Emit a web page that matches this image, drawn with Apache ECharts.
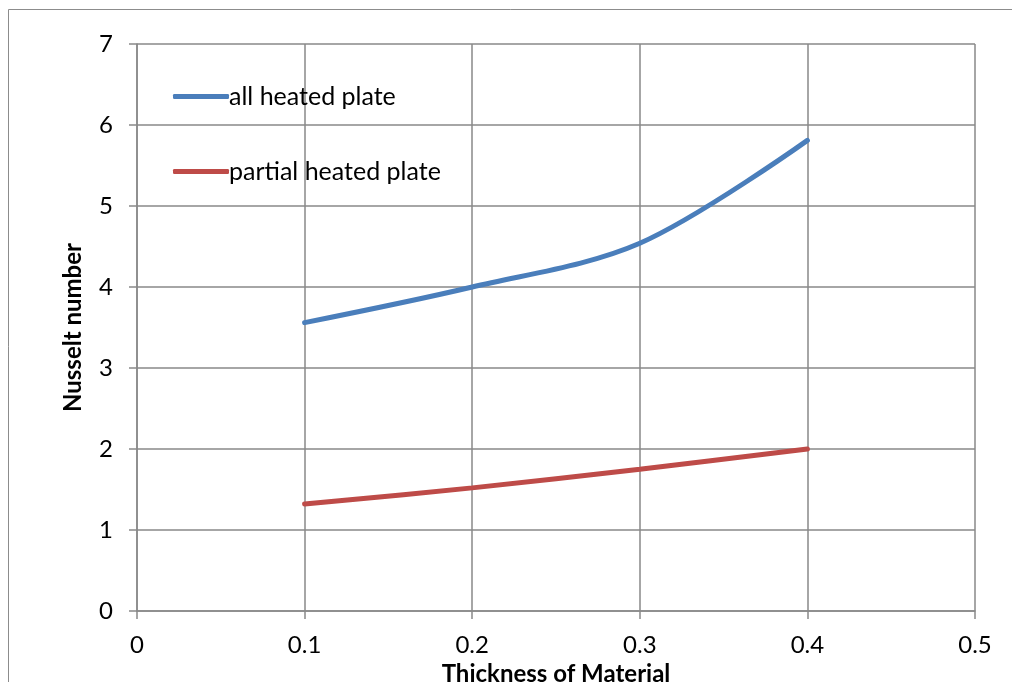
<!DOCTYPE html>
<html>
<head>
<meta charset="utf-8">
<script src="https://cdn.jsdelivr.net/npm/echarts@6/dist/echarts.min.js"></script>
<style>
  html, body { margin: 0; padding: 0; background: #fff; }
  #chart { width: 1012px; height: 682px; }
</style>
</head>
<body>
<div id="chart"></div>
<script>
// Thickness of material (x) and Nusselt number for each heating case
const thickness = [0.1, 0.2, 0.3, 0.4];
const allHeated = [3.56, 4.0, 4.54, 5.81];
const partialHeated = [1.32, 1.52, 1.75, 2.0];
const seriesNames = ['all heated plate', 'partial heated plate'];

const FONT = 'Lato, "Open Sans", sans-serif';
const GRID_COLOR = '#898989';
const BLUE = '#4a7ebb';
const RED = '#be4b48';

const pair = (xs, ys) => xs.map((x, i) => [x, ys[i]]);

const chart = echarts.init(document.getElementById('chart'), null, { renderer: 'canvas' });

chart.setOption({
  animation: false,
  backgroundColor: '#ffffff',
  textStyle: { fontFamily: FONT },
  graphic: [{
    type: 'rect',
    shape: { x: 8.5, y: 9.5, width: 1100, height: 800 },
    style: { fill: 'none', stroke: '#8c8c8c', lineWidth: 1 },
    silent: true
  }],
  grid: { left: 137, right: 37, top: 44, bottom: 71, containLabel: false, outerBoundsMode: 'none' },
  legend: {
    orient: 'vertical',
    left: 168,
    top: 79,
    icon: 'roundRect',
    itemWidth: 56,
    itemHeight: 5,
    itemGap: 50,
    textStyle: { fontSize: 25, color: '#000', fontFamily: FONT, padding: [0, 0, 0, -5] },
    data: seriesNames
  },
  xAxis: {
    type: 'value',
    min: 0,
    max: 0.5,
    interval: 0.1,
    name: 'Thickness of Material',
    nameLocation: 'middle',
    nameGap: 46,
    nameTextStyle: { fontSize: 24, fontWeight: 'bold', color: '#000', fontFamily: FONT },
    axisLine: { show: true, lineStyle: { color: GRID_COLOR, width: 1.5 } },
    axisTick: { show: true, length: 8, lineStyle: { color: GRID_COLOR, width: 1.5 } },
    axisLabel: { fontSize: 24, color: '#000', margin: 22, fontFamily: FONT },
    splitLine: { show: true, lineStyle: { color: GRID_COLOR, width: 1.5 } }
  },
  yAxis: {
    type: 'value',
    min: 0,
    max: 7,
    interval: 1,
    name: 'Nusselt number',
    nameLocation: 'middle',
    nameGap: 52,
    nameTextStyle: { fontSize: 24, fontWeight: 'bold', color: '#000', fontFamily: FONT },
    axisLine: { show: true, lineStyle: { color: GRID_COLOR, width: 1.5 } },
    axisTick: { show: true, length: 8, lineStyle: { color: GRID_COLOR, width: 1.5 } },
    axisLabel: { fontSize: 24, color: '#000', margin: 24, fontFamily: FONT },
    splitLine: { show: true, lineStyle: { color: GRID_COLOR, width: 1.5 } }
  },
  series: [
    {
      name: seriesNames[0],
      type: 'line',
      data: pair(thickness, allHeated),
      smooth: 0.33,
      symbol: 'none',
      color: BLUE,
      itemStyle: { color: BLUE },
      lineStyle: { width: 5, cap: 'round', color: BLUE }
    },
    {
      name: seriesNames[1],
      type: 'line',
      data: pair(thickness, partialHeated),
      smooth: 0.33,
      symbol: 'none',
      color: RED,
      itemStyle: { color: RED },
      lineStyle: { width: 5, cap: 'round', color: RED }
    }
  ]
});
</script>
</body>
</html>
